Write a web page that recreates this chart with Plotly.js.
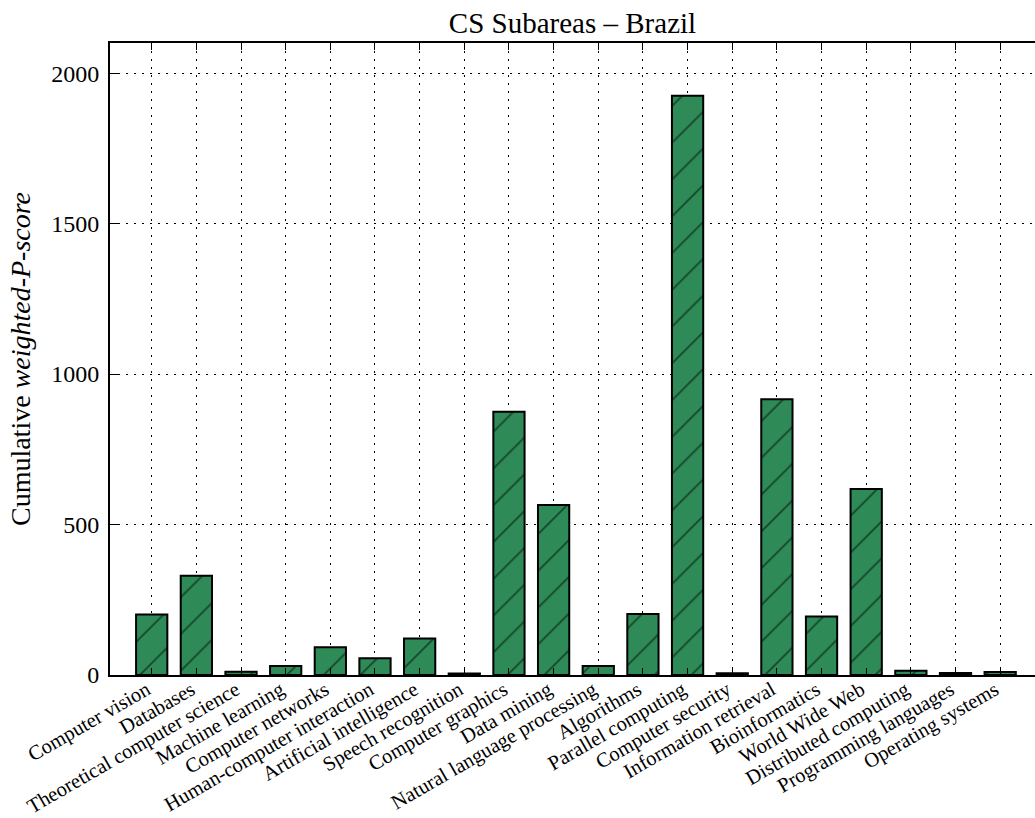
<!DOCTYPE html>
<html>
<head>
<meta charset="utf-8">
<script src="https://cdn.plot.ly/plotly-3.0.1.min.js"></script>
<style>html,body{margin:0;padding:0;background:#fff;}#chart{width:1035px;height:818px;}</style>
</head>
<body>
<div id="chart"></div>
<script>
const categories = [
  "Computer vision", "Databases", "Theoretical computer science", "Machine learning",
  "Computer networks", "Human-computer interaction", "Artificial intelligence",
  "Speech recognition", "Computer graphics", "Data mining", "Natural language processing",
  "Algorithms", "Parallel computing", "Computer security", "Information retrieval",
  "Bioinformatics", "World Wide Web", "Distributed computing", "Programming languages",
  "Operating systems"
];
const scores = [201, 330, 11, 30, 92, 56, 121, 5, 875, 565, 30, 203, 1925, 6, 916, 194, 618, 14, 7, 10];
const yTicks = [0, 500, 1000, 1500, 2000];

const xIdx = categories.map((c, i) => i);

const trace = {
  type: 'bar',
  x: xIdx,
  y: scores,
  width: 0.7,
  marker: {
    color: '#2e8b57',
    line: {color: '#000', width: 2},
    pattern: {shape: '/', fgcolor: '#000', bgcolor: '#2e8b57', size: 26, solidity: 0.07, fillmode: 'overlay'}
  },
  hoverinfo: 'skip'
};

const font = {family: '"Liberation Serif", "DejaVu Serif", serif', color: '#000'};

const layout = {
  width: 1035, height: 818,
  margin: {l: 110, r: 0, t: 43, b: 143},
  paper_bgcolor: '#fff', plot_bgcolor: '#fff',
  font: Object.assign({size: 22}, font),
  showlegend: false,
  title: {text: 'CS Subareas – Brazil', font: Object.assign({size: 29}, font), x: 0.5, xref: 'paper', y: 0.972, yanchor: 'middle'},
  xaxis: {
    range: [-0.934, 19.78],
    tickmode: 'array', tickvals: xIdx, ticktext: categories,
    tickangle: -30,
    tickfont: Object.assign({size: 20.5}, font),
    ticks: 'inside', ticklen: 7, tickwidth: 1, tickcolor: '#000',
    ticklabelshift: -5, ticklabelstandoff: -7,
    showline: true, linecolor: '#000', linewidth: 2, mirror: 'ticks',
    showgrid: true, gridcolor: '#000', griddash: '2px,6px', gridwidth: 1,
    zeroline: false, fixedrange: true
  },
  yaxis: {
    range: [0, 2100],
    tickmode: 'array', tickvals: yTicks, ticktext: yTicks.map(String),
    tickfont: Object.assign({size: 24}, font),
    ticks: 'inside', ticklen: 8, tickwidth: 1, tickcolor: '#000',
    ticklabelstandoff: 4,
    showline: true, linecolor: '#000', linewidth: 2, mirror: false,
    showgrid: true, gridcolor: '#000', griddash: '2px,6px', gridwidth: 1,
    zeroline: false, fixedrange: true,
    title: {text: 'Cumulative <i>weighted-P-score</i>', font: Object.assign({size: 28}, font), standoff: 12}
  },
  bargap: 0.3
};

Plotly.newPlot('chart', [trace], layout, {displayModeBar: false, staticPlot: true});
</script>
</body>
</html>
